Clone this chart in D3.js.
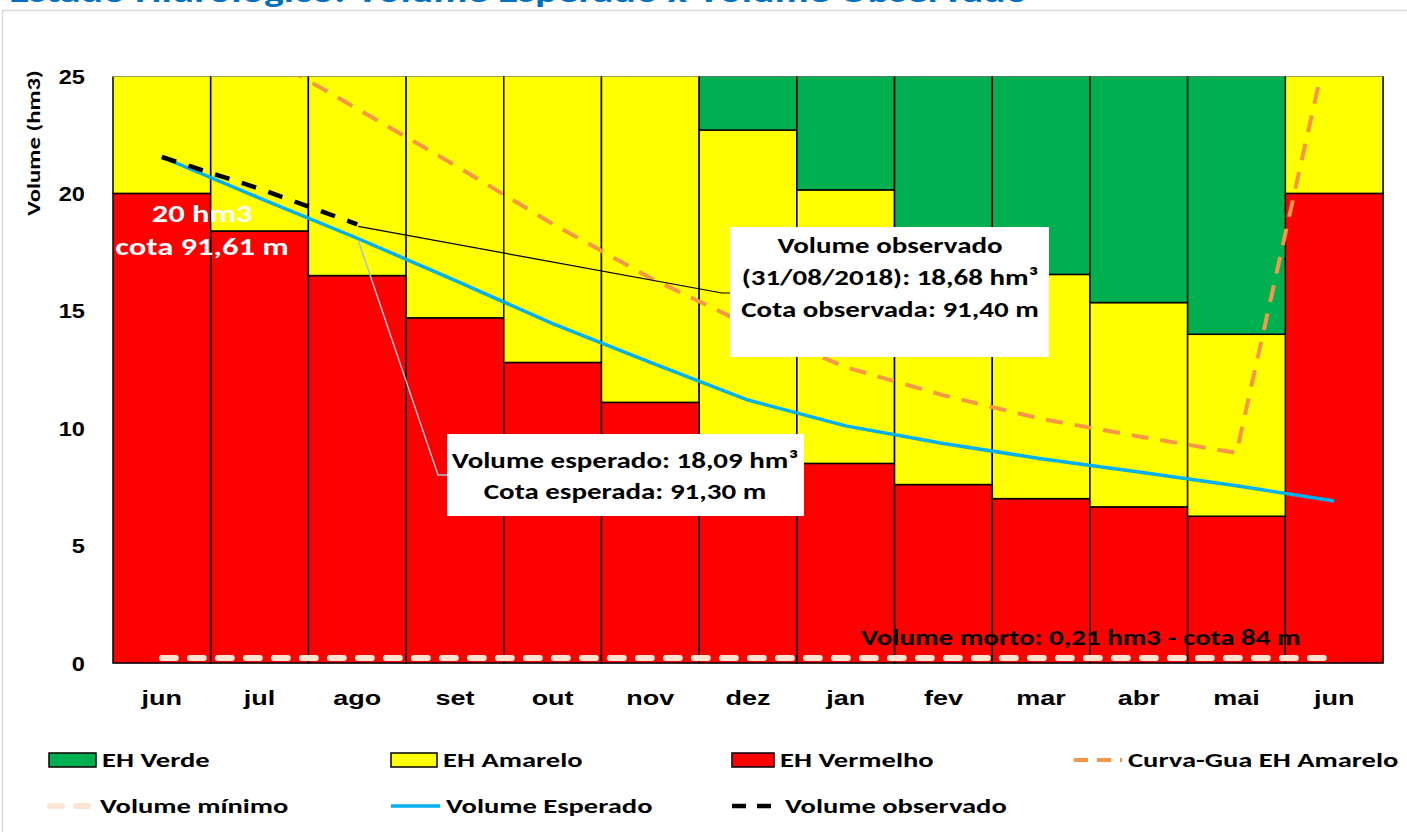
<!DOCTYPE html>
<html>
<head>
<meta charset="utf-8">
<script src="https://cdn.jsdelivr.net/npm/d3@7"></script>
<style>
  body { margin: 0; background: #fff; }
  svg { display: block; font-family: Carlito, Calibri, Lato, sans-serif; font-weight: bold; }
</style>
</head>
<body>
<svg width="1407" height="832"></svg>
<script>
// months (the last "jun" repeats, so the band scale works on indexes)
var months = ["jun", "jul", "ago", "set", "out", "nov", "dez", "jan", "fev", "mar", "abr", "mai", "jun"];
var yTicks = [0, 5, 10, 15, 20, 25];

// stacked bands (thickness of each band, hm3)
var ehVermelho = [20, 18.4, 16.5, 14.7, 12.8, 11.1, 9.6, 8.5, 7.6, 7.0, 6.65, 6.25, 20];
var ehAmarelo  = [5, 6.6, 8.5, 10.3, 12.2, 13.9, 13.1, 11.65, 10.7, 9.55, 8.7, 7.75, 5];
var ehVerde    = [0, 0, 0, 0, 0, 0, 2.3, 4.85, 6.7, 8.45, 9.65, 11.0, 0];

// lines
var curvaGuia       = [28.4, 26.0, 23.6, 21.2, 18.7, 16.4, 14.4, 12.6, 11.4, 10.4, 9.65, 8.95, 27.6];
var volumeEsperado  = [21.55, 19.8, 18.09, 16.3, 14.45, 12.8, 11.2, 10.1, 9.35, 8.7, 8.13, 7.55, 6.9];
var volumeObservado = [21.55, 20.2, 18.68];
var volumeMinimo    = [0.21, 0.21, 0.21, 0.21, 0.21, 0.21, 0.21, 0.21, 0.21, 0.21, 0.21, 0.21, 0.21];

var colors = { verde: "#00b050", amarelo: "#ffff00", vermelho: "#ff0000",
               guia: "#f79646", esperado: "#00b0f0", observado: "#000000", minimo: "#fde4d2" };

var svg = d3.select("svg");

// the original picture is stretched sideways, so text gets a horizontal scale
function wideText(parent, x, y, str, size, sx, anchor) {
  return parent.append("text")
    .attr("transform", "translate(" + x + "," + y + ") scale(" + sx + ",1)")
    .attr("text-anchor", anchor || "start")
    .attr("font-size", size)
    .text(str);
}

// outer frame of the chart object
svg.append("rect")
  .attr("x", 2.5).attr("y", 10.5).attr("width", 1420).attr("height", 840)
  .attr("fill", "none").attr("stroke", "#d9d9d9").attr("stroke-width", 1.5);

// title, mostly cut off at the top
wideText(svg, 9, 2, "Estado Hidrológico: Volume Esperado x Volume Observado", 32, 1.31)
  .attr("fill", "#0070c0");

var x = d3.scaleBand().domain(d3.range(months.length)).range([113, 1383]).padding(0);
var y = d3.scaleLinear().domain([0, 25]).range([663, 76]);
var bw = x.bandwidth();

svg.append("clipPath").attr("id", "plot-clip")
  .append("rect")
  .attr("x", x.range()[0] - 2).attr("y", y(25) + 0.5)
  .attr("width", x.range()[1] - x.range()[0] + 4).attr("height", y(0) - y(25) + 2);

// plot area border (right + bottom in grey)
svg.append("path")
  .attr("d", "M" + x.range()[1] + "," + y(25) + "V" + y(0) + "H" + x.range()[0])
  .attr("fill", "none").attr("stroke", "#a6a6a6").attr("stroke-width", 1.5);

var table = months.map(function(m, i) {
  return { i: i, vermelho: ehVermelho[i], amarelo: ehAmarelo[i], verde: ehVerde[i] };
});
var stack = d3.stack().keys(["vermelho", "amarelo", "verde"]);
var series = stack(table);

var plot = svg.append("g").attr("clip-path", "url(#plot-clip)");

plot.selectAll("g.layer")
  .data(series)
  .enter().append("g")
  .attr("class", "layer")
  .attr("fill", function(s) { return colors[s.key]; })
  .selectAll("rect")
  .data(function(s) { return s.filter(function(d) { return d[1] - d[0] > 0; }); })
  .enter().append("rect")
  .attr("x", function(d) { return x(d.data.i); })
  .attr("width", bw)
  .attr("y", function(d) { return y(d[1]); })
  .attr("height", function(d) { return y(d[0]) - y(d[1]); })
  .attr("stroke", "#000").attr("stroke-width", 1.5);

function lineFor(values) {
  return d3.line()
    .x(function(d, i) { return x(i) + bw / 2; })
    .y(function(d) { return y(d); })(values);
}

// volume minimo (light dashed line near zero)
plot.append("path")
  .attr("d", lineFor(volumeMinimo))
  .attr("fill", "none").attr("stroke", colors.minimo)
  .attr("stroke-width", 6).attr("stroke-linecap", "round")
  .attr("stroke-dasharray", "14,14");

// curva-guia
plot.append("path")
  .attr("d", lineFor(curvaGuia))
  .attr("fill", "none").attr("stroke", colors.guia)
  .attr("stroke-width", 4).attr("stroke-dasharray", "17,12");

// volume esperado
plot.append("path")
  .attr("d", lineFor(volumeEsperado))
  .attr("fill", "none").attr("stroke", colors.esperado)
  .attr("stroke-width", 3.5);

// volume observado
plot.append("path")
  .attr("d", lineFor(volumeObservado))
  .attr("fill", "none").attr("stroke", colors.observado)
  .attr("stroke-width", 4.5).attr("stroke-dasharray", "15,13");

// axes
var yAxis = d3.axisLeft(y).tickValues(yTicks).tickSize(0).tickPadding(0);
svg.append("g")
  .attr("transform", "translate(85,0)")
  .call(yAxis)
  .call(function(g) { g.select(".domain").remove(); })
  .selectAll("text")
  .attr("font-family", null).attr("font-size", 20).attr("fill", "#000")
  .attr("dy", "0.35em")
  .attr("transform", "scale(1.18,1)");

var xAxis = d3.axisBottom(x).tickFormat(function(i) { return months[i]; }).tickSize(0).tickPadding(0);
svg.append("g")
  .attr("transform", "translate(0," + 705 + ")")
  .call(xAxis)
  .call(function(g) { g.select(".domain").remove(); })
  .selectAll("text")
  .attr("font-family", null).attr("font-size", 20).attr("fill", "#000")
  .attr("dy", 0)
  .attr("transform", "scale(1.35,1)");

svg.append("text")
  .attr("transform", "translate(40,143) rotate(-90) scale(1.3,1)")
  .attr("text-anchor", "middle").attr("font-size", 19)
  .text("Volume (hm3)");

// annotations
wideText(svg, 202, 222, "20 hm3", 25, 1.3, "middle").attr("fill", "#fff");
wideText(svg, 202, 255, "cota 91,61 m", 25, 1.3, "middle").attr("fill", "#fff");
wideText(svg, 861, 645, "Volume morto: 0,21 hm3 - cota 84 m", 23, 1.26);

// callout: volume observado
var obsX = x(2) + bw / 2, obsY = y(volumeObservado[2]);
svg.append("polyline")
  .attr("points", [[obsX + 1, obsY + 2], [722, 293], [730, 293]].join(" "))
  .attr("fill", "none").attr("stroke", "#000").attr("stroke-width", 1.2);
svg.append("rect")
  .attr("x", 730).attr("y", 227).attr("width", 319).attr("height", 130)
  .attr("fill", "#fff");
var obsText = ["Volume observado", "(31/08/2018): 18,68 hm³", "Cota observada: 91,40 m"];
obsText.forEach(function(t, i) {
  wideText(svg, 890, 253 + i * 32, t, 23, 1.26, "middle");
});

// callout: volume esperado
var espX = x(2) + bw / 2, espY = y(volumeEsperado[2]);
svg.append("polyline")
  .attr("points", [[espX + 1, espY + 2], [438, 475], [447, 475]].join(" "))
  .attr("fill", "none").attr("stroke", "#a5c2dc").attr("stroke-width", 1.5);
svg.append("rect")
  .attr("x", 447).attr("y", 434).attr("width", 357).attr("height", 82)
  .attr("fill", "#fff");
var espText = ["Volume esperado: 18,09 hm³", "Cota esperada: 91,30 m"];
espText.forEach(function(t, i) {
  wideText(svg, 625, 468 + i * 31, t, 23, 1.26, "middle");
});

// legend
var legendItems = [
  { label: "EH Verde", type: "box", color: colors.verde, x: 49, row: 0, w: 47 },
  { label: "EH Amarelo", type: "box", color: colors.amarelo, x: 391, row: 0, w: 46 },
  { label: "EH Vermelho", type: "box", color: colors.vermelho, x: 732, row: 0, w: 42 },
  { label: "Curva-Gua EH Amarelo", type: "line", color: colors.guia, x: 1074, row: 0, w: 48, dash: "14,9", sw: 4 },
  { label: "Volume mínimo", type: "line", color: colors.minimo, x: 50, row: 1, w: 44, dash: "12,14", sw: 6, cap: "round" },
  { label: "Volume Esperado", type: "line", color: colors.esperado, x: 391, row: 1, w: 49, sw: 3.5 },
  { label: "Volume observado", type: "line", color: colors.observado, x: 732, row: 1, w: 47, dash: "14,11", sw: 4.5 }
];
var rowY = [760, 806];

var legend = svg.append("g").attr("class", "legend");
legendItems.forEach(function(it) {
  var cy = rowY[it.row];
  if (it.type == "box") {
    legend.append("rect")
      .attr("x", it.x).attr("y", cy - 7).attr("width", it.w).attr("height", 14)
      .attr("fill", it.color).attr("stroke", "#000").attr("stroke-width", 1.5);
  } else {
    legend.append("line")
      .attr("x1", it.x).attr("x2", it.x + it.w).attr("y1", cy).attr("y2", cy)
      .attr("stroke", it.color).attr("stroke-width", it.sw)
      .attr("stroke-linecap", it.cap || "butt")
      .attr("stroke-dasharray", it.dash || null);
  }
  wideText(legend, it.x + it.w + 6, cy + 7, it.label, 21, 1.36);
});
</script>
</body>
</html>
